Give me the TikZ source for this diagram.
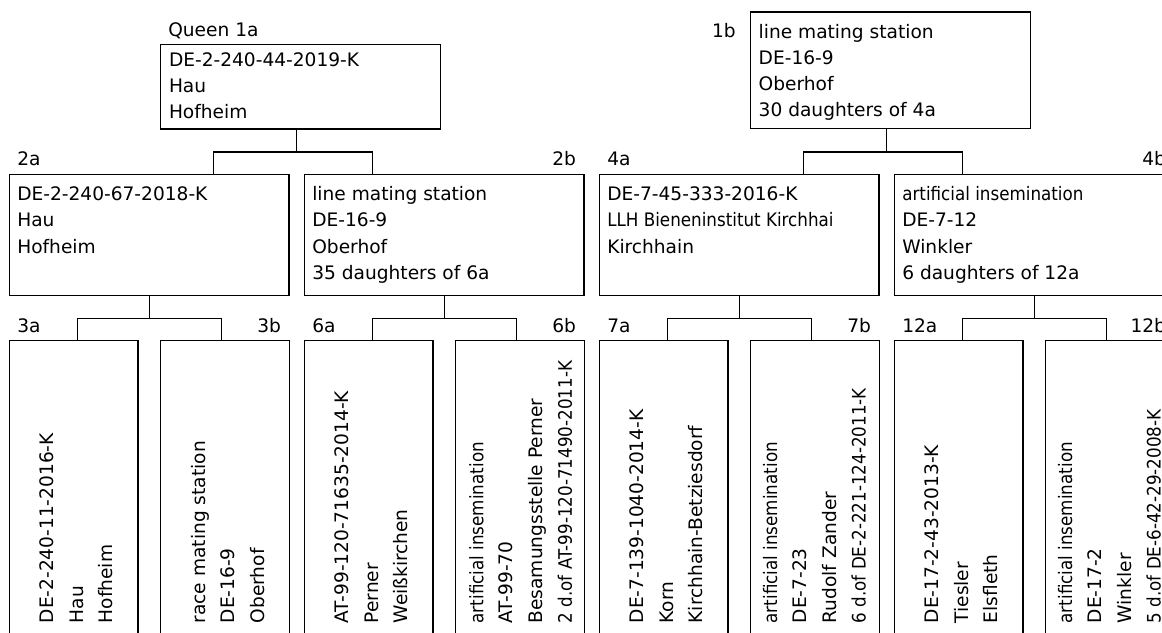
\documentclass[tikz,border=0pt]{standalone}
\usepackage{fontspec}
\setmainfont{DejaVu Sans}
\newfontfamily\condfont{DejaVu Sans}[FakeStretch=0.9]
\newcommand\fs{\fontsize{18.6pt}{26pt}\selectfont}
\newcommand\hl[2]{\vtop{\baselineskip=#1pt\lineskiplimit=-1000pt #2}}
\newcommand\Lx[1]{\hbox{#1}}
\begin{document}
\begin{tikzpicture}[x=1pt,y=-1pt,line width=1.2pt,
  box/.style={draw,inner sep=0,outer sep=0,anchor=north west},
  midbox/.style={box,minimum width=279.7pt,minimum height=121pt},
  topbox/.style={box,minimum width=280pt},
  lowbox/.style={box,minimum width=128.7pt,minimum height=320pt},
  txt/.style={inner sep=0,outer sep=0,anchor=base west,font=\fs},
  rtxt/.style={txt,rotate=90},
  lbl/.style={inner sep=0,outer sep=0,anchor=base west,font=\fs},
  rlbl/.style={lbl,anchor=base east}]
\useasboundingbox (0,0) rectangle (1162,632);
\clip (0,0) rectangle (1162,632);
% top boxes
\node[topbox,minimum height=84.3pt] (n1a) at (160.7,44.7) {};
\node[topbox,minimum height=116.7pt] (n1b) at (750.5,12) {};
\node[lbl] (l1a) at (168.3,36.7) {Queen 1a};
\node[rlbl] (l1b) at (735.7,37.3) {1b};
\node[txt] (t1a) at (169,66.7) {\hl{25.8}{\Lx{DE-2-240-44-2019-K}\Lx{Hau}\Lx{Hofheim}}};
\node[txt] (t1b) at (758.7,38.3) {\hl{26.1}{\Lx{line mating station}\Lx{DE-16-9}\Lx{Oberhof}\Lx{30 daughters of 4a}}};
% middle boxes
\node[midbox] (n2a) at (9.3,174.3) {};
\node[midbox] (n2b) at (304.3,174.3) {};
\node[midbox] (n4a) at (599.3,174.3) {};
\node[midbox] (n4b) at (894.3,174.3) {};
\node[lbl] (l2a) at (17.3,165) {2a};
\node[rlbl] (l2b) at (576,165) {2b};
\node[lbl] (l4a) at (607.3,165) {4a};
\node[rlbl] (l4b) at (1166,165) {4b};
\node[txt] (t2a) at (17.3,200) {\hl{26.5}{\Lx{DE-2-240-67-2018-K}\Lx{Hau}\Lx{Hofheim}}};
\node[txt] (t2b) at (312.3,200) {\hl{26.5}{\Lx{line mating station}\Lx{DE-16-9}\Lx{Oberhof}\Lx{35 daughters of 6a}}};
\node[txt] (t4a) at (607.3,200) {\hl{26.5}{\Lx{DE-7-45-333-2016-K}\Lx{\condfont LLH Bieneninstitut Kirchhai}\Lx{Kirchhain}}};
\node[txt] (t4b) at (902.3,200) {\hl{26.5}{\Lx{\condfont artificial insemination}\Lx{DE-7-12}\Lx{Winkler}\Lx{6 daughters of 12a}}};
% bottom boxes
\node[lowbox] (n3a) at (9.3,340.7) {};
\node[lowbox] (n3b) at (160.7,340.7) {};
\node[lowbox] (n6a) at (304.3,340.7) {};
\node[lowbox] (n6b) at (455.7,340.7) {};
\node[lowbox] (n7a) at (599.3,340.7) {};
\node[lowbox] (n7b) at (750.7,340.7) {};
\node[lowbox] (n12a) at (894.3,340.7) {};
\node[lowbox] (n12b) at (1045.7,340.7) {};
\node[lbl] (l3a) at (17.3,332) {3a};
\node[rlbl] (l3b) at (281,332) {3b};
\node[lbl] (l6a) at (312.3,332) {6a};
\node[rlbl] (l6b) at (576,332) {6b};
\node[lbl] (l7a) at (607.3,332) {7a};
\node[rlbl] (l7b) at (871,332) {7b};
\node[lbl] (l12a) at (902.3,332) {12a};
\node[rlbl] (l12b) at (1166,332) {12b};
\node[rtxt] (t3a) at (53.3,623.3) {\hl{29.8}{\Lx{DE-2-240-11-2016-K}\Lx{Hau}\Lx{Hofheim}}};
\node[rtxt] (t3b) at (205,623.3) {\hl{29.8}{\Lx{race mating station}\Lx{DE-16-9}\Lx{Oberhof}}};
\node[rtxt] (t6a) at (348.3,623.3) {\hl{29.8}{\Lx{AT-99-120-71635-2014-K}\Lx{Perner}\Lx{Weißkirchen}}};
\node[rtxt] (t6b) at (483.3,623.3) {\hl{29.5}{\Lx{\condfont artificial insemination}\Lx{AT-99-70}\Lx{Besamungsstelle Perner}\Lx{\condfont 2 d.of AT-99-120-71490-2011-K}}};
\node[rtxt] (t7a) at (643.3,623.3) {\hl{29.8}{\Lx{DE-7-139-1040-2014-K}\Lx{Korn}\Lx{Kirchhain-Betziesdorf}}};
\node[rtxt] (t7b) at (777,623.3) {\hl{29.5}{\Lx{\condfont artificial insemination}\Lx{DE-7-23}\Lx{Rudolf Zander}\Lx{\condfont 6 d.of DE-2-221-124-2011-K}}};
\node[rtxt] (t12a) at (938.3,623.3) {\hl{29.8}{\Lx{DE-17-2-43-2013-K}\Lx{Tiesler}\Lx{Elsfleth}}};
\node[rtxt] (t12b) at (1072,623.3) {\hl{29.5}{\Lx{\condfont artificial insemination}\Lx{DE-17-2}\Lx{Winkler}\Lx{\condfont 5 d.of DE-6-42-29-2008-K}}};
% connectors
\draw ([xshift=-4pt]n1a.south) -- ++(0,23) coordinate (j1a);
\draw ([xshift=64.5pt]n2a.north) |- (j1a) -| ([xshift=-71.85pt]n2b.north);
\draw ([xshift=-3.8pt]n1b.south) -- ++(0,23.3) coordinate (j1b);
\draw ([xshift=64.2pt]n4a.north) |- (j1b) -| ([xshift=-71.85pt]n4b.north);
\draw (n2a.south) -- ++(0,23) coordinate (j2a);
\draw ([xshift=3.65pt]n3a.north) |- (j2a) -| ([xshift=-3.85pt]n3b.north);
\draw (n2b.south) -- ++(0,23) coordinate (j2b);
\draw ([xshift=3.65pt]n6a.north) |- (j2b) -| ([xshift=-3.85pt]n6b.north);
\draw (n4a.south) -- ++(0,23) coordinate (j4a);
\draw ([xshift=3.65pt]n7a.north) |- (j4a) -| ([xshift=-3.85pt]n7b.north);
\draw (n4b.south) -- ++(0,23) coordinate (j4b);
\draw ([xshift=3.65pt]n12a.north) |- (j4b) -| ([xshift=-3.85pt]n12b.north);
\end{tikzpicture}
\end{document}
